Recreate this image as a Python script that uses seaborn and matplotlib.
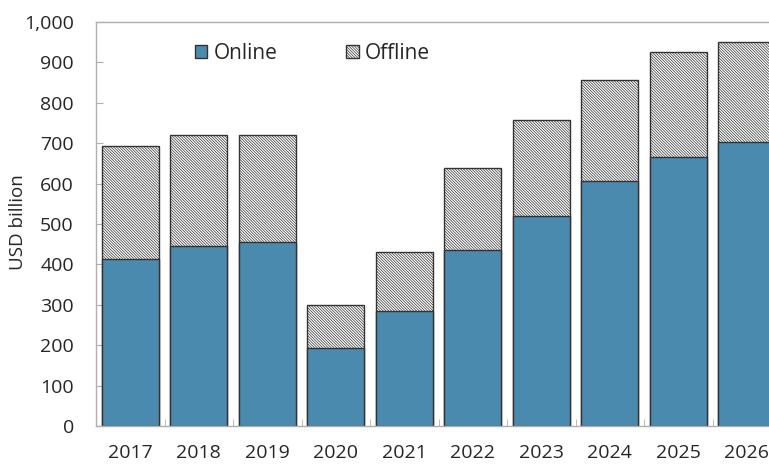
import numpy as np
import pandas as pd
import matplotlib
matplotlib.use("Agg")
import matplotlib.pyplot as plt
import seaborn as sns
from matplotlib.patches import Patch

# values (USD billion)
years = ["2017", "2018", "2019", "2020", "2021", "2022", "2023", "2024", "2025", "2026"]
online = [413, 446, 455, 193, 285, 436, 520, 606, 666, 703]
offline = [280, 274, 265, 107, 146, 203, 237, 250, 260, 247]

df = pd.DataFrame({"Year": years, "Online": online, "Offline": offline})
df["Total"] = df["Online"] + df["Offline"]

sns.set_style("white")
plt.rcParams["font.family"] = ["Open Sans", "DejaVu Sans"]
plt.rcParams["hatch.linewidth"] = 0.5

blue = "#4a8aae"
edge = "#333333"
hatch = "\\" * 12

fig = plt.figure(figsize=(7.69, 4.65), dpi=100)
# right edge of the axes sits past the figure, like the clipped reference
ax = fig.add_axes([96 / 769, 1 - 426 / 465, 685 / 769, 404 / 465])

# offline on top: draw total bars hatched, then online over them
sns.barplot(data=df, x="Year", y="Total", color="white", width=0.83,
            edgecolor=edge, linewidth=1.0, hatch=hatch, ax=ax, saturation=1)
sns.barplot(data=df, x="Year", y="Online", color=blue, width=0.83,
            edgecolor=edge, linewidth=1.0, ax=ax, saturation=1)

ax.set_ylim(0, 1000)
ax.set_xlim(-0.5, len(years) - 0.5)
ax.set_yticks(np.arange(0, 1001, 100))
ax.set_yticklabels([f"{v:,}" for v in range(0, 1001, 100)])
ax.set_xlabel("")
ax.set_ylabel("")
fig.text(18 / 769, 1 - 222 / 465, "USD billion", rotation=90, fontsize=13.5,
         ha="center", va="center")

for side in ["left", "bottom", "top", "right"]:
    ax.spines[side].set_color("#b0b0b0")
    ax.spines[side].set_linewidth(1.0)

ax.tick_params(axis="y", direction="in", length=5, color="#b0b0b0",
               labelsize=14, pad=16, left=True)
ax.tick_params(axis="x", which="major", length=0, labelsize=14, pad=13)
ax.set_xticks(np.arange(0.5, len(years) - 0.5), minor=True)
ax.tick_params(axis="x", which="minor", direction="in", length=5,
               color="#b0b0b0", bottom=True)

handles = [Patch(facecolor=blue, edgecolor=edge, label="Online"),
           Patch(facecolor="white", edgecolor=edge, hatch=hatch, label="Offline")]
ax.legend(handles=handles, loc="upper left", bbox_to_anchor=(0.117, 0.995),
          ncol=2, frameon=False, fontsize=15, columnspacing=3.3,
          handlelength=0.6, handleheight=0.6, handletextpad=0.3)

fig.savefig("out.png", dpi=100)
